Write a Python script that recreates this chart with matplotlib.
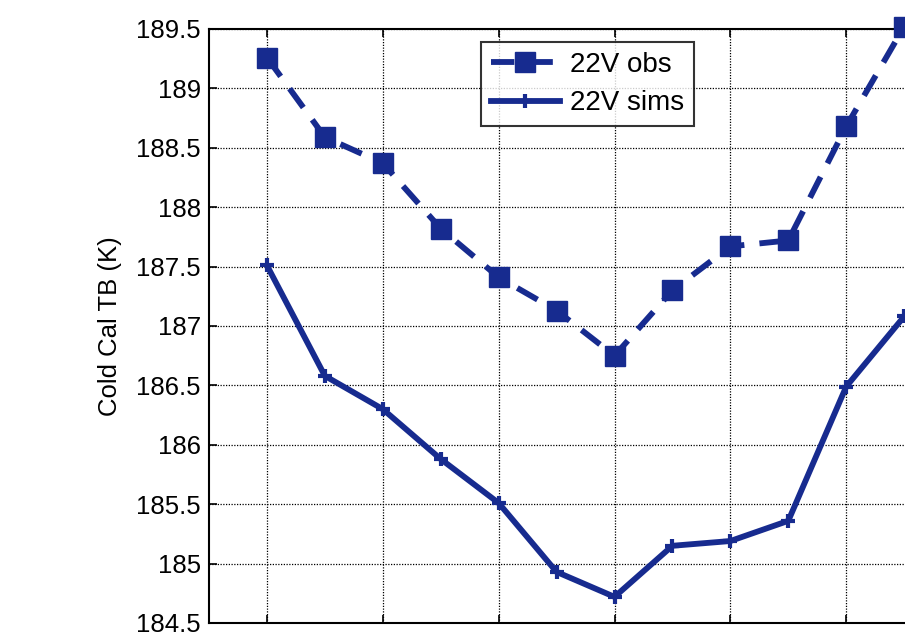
import matplotlib
matplotlib.use('Agg')
import matplotlib.pyplot as plt
from matplotlib.ticker import FuncFormatter

plt.rcParams['font.family'] = ['Liberation Sans', 'DejaVu Sans']

# data (x is the sample index)
x_values = [1, 2, 3, 4, 5, 6, 7, 8, 9, 10, 11, 12]
obs_22v = [189.26, 188.59, 188.37, 187.82, 187.41, 187.13,
           186.75, 187.30, 187.67, 187.72, 188.68, 189.52]
sims_22v = [187.51, 186.58, 186.30, 185.88, 185.51, 184.93,
            184.72, 185.15, 185.19, 185.36, 186.49, 187.08]
y_ticks = [184.5, 185, 185.5, 186, 186.5, 187, 187.5, 188, 188.5, 189, 189.5]
x_ticks = [1, 3, 5, 7, 9, 11, 13]

blue = '#172b8f'

fig = plt.figure(figsize=(9.05, 6.36), dpi=100)
# the original picture is a crop: axes run off the right and bottom edges
ax = fig.add_axes([209 / 905, 1 - 623 / 636, (1020 - 209) / 905, (623 - 29) / 636])

ax.plot(x_values, obs_22v, color=blue, linestyle='--', dashes=(4, 2.6),
        linewidth=4.2, marker='s', markersize=14, markerfacecolor=blue,
        markeredgecolor=blue, label='22V obs', clip_on=False, zorder=3)
ax.plot(x_values, sims_22v, color=blue, linestyle='-', linewidth=4.2,
        marker='+', markersize=10, markeredgewidth=3, label='22V sims',
        clip_on=False, zorder=3)

ax.set_xlim(0, 14)
ax.set_ylim(184.5, 189.5)
ax.set_yticks(y_ticks)
ax.set_xticks(x_ticks)
ax.yaxis.set_major_formatter(FuncFormatter(lambda v, p: '%g' % v))
ax.tick_params(axis='both', direction='in', length=6, width=1.2, pad=6,
               labelsize=18.5, top=True, right=True, labelbottom=False)
ax.grid(True, color='black', linestyle=(0, (1, 1.2)), linewidth=0.9)
for s in ax.spines.values():
    s.set_linewidth(1.5)

ax.set_ylabel('Cold Cal TB (K)', fontsize=18.5, labelpad=10)

# legend box placed where it sits in the original
leg = ax.legend(loc='upper left', bbox_to_anchor=(481 / 905, 1 - 42 / 636),
                bbox_transform=fig.transFigure, fontsize=20, frameon=True,
                fancybox=False, borderpad=0.35, handlelength=2.5,
                handletextpad=0.35, labelspacing=0.45, borderaxespad=0)
leg.get_frame().set_edgecolor('black')
leg.get_frame().set_linewidth(1.5)

plt.savefig('out.png', dpi=100)
